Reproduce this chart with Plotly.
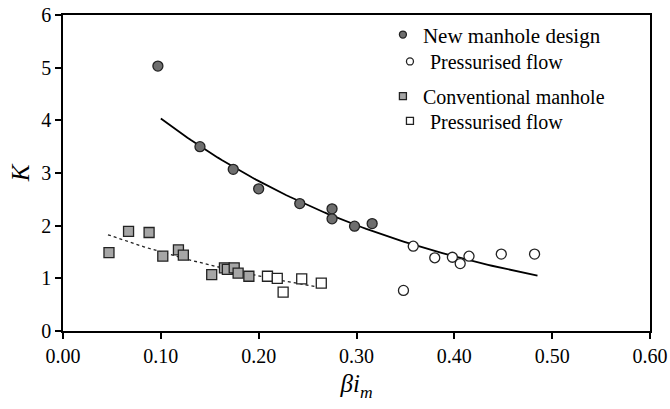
import numpy as np
import plotly.graph_objects as go

# New manhole design (free-surface flow)
new_x = [0.097, 0.140, 0.174, 0.200, 0.242, 0.275, 0.275, 0.298, 0.316]
new_k = [5.03, 3.50, 3.07, 2.70, 2.42, 2.32, 2.13, 1.99, 2.04]
# New manhole design, pressurised flow
newp_x = [0.348, 0.358, 0.380, 0.398, 0.406, 0.415, 0.448, 0.482]
newp_k = [0.77, 1.61, 1.39, 1.40, 1.28, 1.42, 1.46, 1.46]
# Conventional manhole
conv_x = [0.047, 0.067, 0.088, 0.102, 0.118, 0.123, 0.152, 0.165, 0.168, 0.175, 0.179, 0.190]
conv_k = [1.49, 1.89, 1.87, 1.42, 1.54, 1.44, 1.07, 1.20, 1.17, 1.20, 1.10, 1.04]
# Conventional manhole, pressurised flow
convp_x = [0.209, 0.219, 0.225, 0.244, 0.264]
convp_k = [1.04, 1.00, 0.74, 0.99, 0.91]

# Exponential trendlines K = a*exp(b*x) and their x extents
new_trend = {"a": 5.72, "b": -3.49, "x0": 0.100, "x1": 0.485}
conv_trend = {"a": 2.16, "b": -3.64, "x0": 0.046, "x1": 0.259}

x_ticks = [0.0, 0.1, 0.2, 0.3, 0.4, 0.5, 0.6]
x_ticklabels = ["0.00", "0.10", "0.20", "0.30", "0.40", "0.50", "0.60"]
y_ticks = [0, 1, 2, 3, 4, 5, 6]
y_ticklabels = ["0", "1", "2", "3", "4", "5", "6"]

FONT = "'Liberation Serif', 'Times New Roman', Times, serif"

def trend(p):
    xs = np.linspace(p["x0"], p["x1"], 100)
    return xs, p["a"] * np.exp(p["b"] * xs)

fig = go.Figure()

tx, ty = trend(new_trend)
fig.add_trace(go.Scatter(x=tx, y=ty, mode="lines", line=dict(color="black", width=1.8),
                         showlegend=False, hoverinfo="skip"))
tx, ty = trend(conv_trend)
fig.add_trace(go.Scatter(x=tx, y=ty, mode="lines", line=dict(color="#222", width=1.3, dash="dot"),
                         showlegend=False, hoverinfo="skip"))

circ_line = dict(color="#222", width=1.3)
fig.add_trace(go.Scatter(x=new_x, y=new_k, mode="markers", showlegend=False,
                         marker=dict(symbol="circle", size=10, color="#6e6e6e", line=circ_line)))
fig.add_trace(go.Scatter(x=newp_x, y=newp_k, mode="markers", showlegend=False,
                         marker=dict(symbol="circle", size=10, color="white", line=circ_line)))
fig.add_trace(go.Scatter(x=conv_x, y=conv_k, mode="markers", showlegend=False,
                         marker=dict(symbol="square", size=10, color="#a6a6a6", line=circ_line)))
fig.add_trace(go.Scatter(x=convp_x, y=convp_k, mode="markers", showlegend=False,
                         marker=dict(symbol="square", size=10, color="white", line=circ_line)))

# legend-only entries (smaller symbols as in the reference)
leg_items = [
    ("New manhole design", "circle", "#6e6e6e", "legend"),
    ("Pressurised flow", "circle", "white", "legend2"),
    ("Conventional manhole", "square", "#a6a6a6", "legend3"),
    ("Pressurised flow", "square", "white", "legend4"),
]
for name, sym, col, lg in leg_items:
    fig.add_trace(go.Scatter(x=[None], y=[None], mode="markers", name=name, legend=lg,
                             marker=dict(symbol=sym, size=7, color=col, line=dict(color="#222", width=1.3))))

def leg(x, y, size=20):
    return dict(x=x, y=y, xanchor="left", yanchor="middle", bgcolor="rgba(0,0,0,0)",
                font=dict(family=FONT, size=size, color="black"), itemsizing="trace")

fig.update_layout(
    width=670, height=409,
    margin=dict(l=63, r=20, t=15, b=78, autoexpand=False),
    paper_bgcolor="white", plot_bgcolor="white",
    font=dict(family=FONT, size=20, color="black"),
    legend=leg(0.545, 0.937, 21),
    legend2=leg(0.557, 0.853),
    legend3=leg(0.545, 0.743),
    legend4=leg(0.557, 0.665),
    xaxis=dict(range=[0, 0.6], tickvals=x_ticks, ticktext=x_ticklabels, automargin=False,
               showgrid=False, zeroline=False, showline=True, linecolor="black", linewidth=1.5,
               mirror=True, ticks="outside", ticklen=6, tickcolor="black", tickwidth=1.5,
               tickfont=dict(family=FONT, size=20),
               title=dict(text="<i>βi</i><sub><i>m</i></sub>", font=dict(family=FONT, size=25), standoff=9)),
    yaxis=dict(range=[0, 6], tickvals=y_ticks, ticktext=y_ticklabels, automargin=False,
               showgrid=False, zeroline=False, showline=True, linecolor="black", linewidth=1.5,
               mirror=True, ticks="outside", ticklen=6, tickcolor="black", tickwidth=1.5,
               tickfont=dict(family=FONT, size=20),
               title=dict(text="<i>K</i>", font=dict(family=FONT, size=25), standoff=5)),
)

# make sure the serif family reaches every axis text element as well
css_fix = (
    "var st=document.createElement('style');"
    "st.textContent=\".xtick text,.ytick text,.g-xtitle text,.g-ytitle text"
    "{font-family:'Liberation Serif','Times New Roman',Times,serif !important;}\";"
    "document.head.appendChild(st);"
    "document.body.style.margin='0';document.body.style.overflow='hidden';"
)
fig.write_html("out.html", config={"displayModeBar": False}, post_script=css_fix)
